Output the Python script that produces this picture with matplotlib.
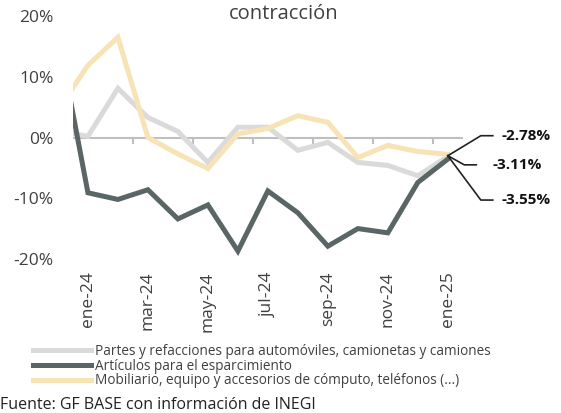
import matplotlib
matplotlib.use('Agg')
import matplotlib.pyplot as plt
import numpy as np

plt.rcParams['font.family'] = ['Open Sans', 'DejaVu Sans']

# dic-23 .. ene-25 (dic-23 sits outside the visible range, line is clipped)
months = ['dic-23', 'ene-24', 'feb-24', 'mar-24', 'abr-24', 'may-24', 'jun-24',
          'jul-24', 'ago-24', 'sep-24', 'oct-24', 'nov-24', 'dic-24', 'ene-25']
tick_labels = ['ene-24', 'mar-24', 'may-24', 'jul-24', 'sep-24', 'nov-24', 'ene-25']

partes = [1.1, 0.2, 8.1, 3.3, 1.0, -4.1, 1.7, 1.7, -2.1, -0.8, -4.1, -4.6, -6.3, -3.11]
esparcimiento = [17.0, -9.1, -10.2, -8.6, -13.4, -11.1, -18.7, -8.8, -12.4, -17.9,
                 -15.0, -15.7, -7.4, -3.55]
mobiliario = [4.5, 11.9, 16.5, 0.0, -2.7, -5.1, 0.6, 1.5, 3.6, 2.5, -3.3, -1.3, -2.3, -2.78]

legend_labels = ['Partes y refacciones para automóviles, camionetas y camiones',
                 'Artículos para el esparcimiento',
                 'Mobiliario, equipo y accesorios de cómputo, teléfonos (...)']

c_gray = '#dadada'
c_dark = '#5a6565'
c_yel = '#f7e3b5'
txt = '#404040'

fig = plt.figure(figsize=(5.61, 4.13), dpi=100)
ax = fig.add_axes([0.130, 0.373, 0.695, 0.588])

x = np.arange(len(months)) - 1
ax.axhline(0, color='#bfbfbf', lw=1.5, zorder=1)
ax.vlines(np.arange(1.5, 12, 2), -1.0, 0, color='#bfbfbf', lw=1.5, zorder=1)

l1, = ax.plot(x, partes, color=c_gray, lw=3.6, solid_joinstyle='miter', zorder=2)
l2, = ax.plot(x, esparcimiento, color=c_dark, lw=3.6, solid_joinstyle='miter', zorder=3)
l3, = ax.plot(x, mobiliario, color=c_yel, lw=3.6, solid_joinstyle='miter', zorder=2)

ax.set_xlim(-0.5, 12.5)
ax.set_ylim(-20, 20)
for s in ax.spines.values():
    s.set_visible(False)

ax.set_yticks([20, 10, 0, -10, -20])
ax.set_yticklabels(['20%', '10%', '0%', '-10%', '-20%'])
ax.set_xticks(np.arange(0, 13, 2))
ax.set_xticklabels(tick_labels, rotation=90)
ax.tick_params(axis='y', length=0, pad=14, labelsize=12.5, labelcolor=txt)
ax.tick_params(axis='x', length=0, pad=9, labelsize=12.5, labelcolor=txt)

# leader lines for last values
end = (12, -3.0)
notes = [('-2.78%', (13.1, 0.3), (13.5, 0.3), 13.8),
         ('-3.11%', (12.55, -4.5), (12.95, -4.5), 13.5),
         ('-3.55%', (13.1, -10.3), (13.5, -10.3), 13.8)]
for label, p1, p2, tx in notes:
    ax.plot([end[0], p1[0], p2[0]], [end[1], p1[1], p2[1]], color='#222222',
            lw=1.2, clip_on=False, zorder=4)
    ax.text(tx, p1[1], label, fontsize=11, fontweight='bold', color='#111111',
            va='center', ha='left', clip_on=False)

fig.text(0.505, 0.99, 'contracción', ha='center', va='top', fontsize=14.5, color=txt)

fig.legend([l1, l2, l3], legend_labels, loc='upper left',
           bbox_to_anchor=(0.058, 0.167), frameon=False, fontsize=9.8,
           handlelength=4.3, handletextpad=0.3, labelspacing=-0.02,
           borderaxespad=0, borderpad=0, labelcolor=txt)

fig.text(0.0, 0.0, 'Fuente: GF BASE con información de INEGI', ha='left', va='bottom',
         fontsize=11.5, color='#222222')

fig.savefig('out.png', dpi=100, facecolor='white')
